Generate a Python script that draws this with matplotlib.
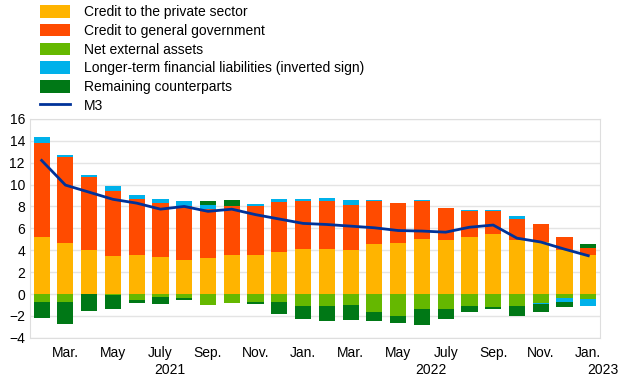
import numpy as np
import matplotlib.pyplot as plt

plt.rcParams['font.family'] = ['Liberation Sans', 'DejaVu Sans']

# Monthly data, Feb 2021 - Jan 2023 (annual growth contributions, p.p.)
months = ['Feb', 'Mar.', 'Apr', 'May', 'Jun', 'July', 'Aug', 'Sep.', 'Oct', 'Nov.', 'Dec',
          'Jan.', 'Feb', 'Mar.', 'Apr', 'May', 'Jun', 'July', 'Aug', 'Sep.', 'Oct', 'Nov.', 'Dec',
          'Jan.']
private = [5.25, 4.7, 4.0, 3.5, 3.55, 3.4, 3.15, 3.3, 3.6, 3.6, 3.8, 4.1,
           4.1, 4.0, 4.55, 4.65, 5.0, 4.95, 5.25, 5.45, 4.9, 4.75, 4.0, 3.55]
government = [8.55, 7.83, 6.7, 5.9, 5.15, 4.95, 4.9, 4.45, 4.4, 4.4, 4.6, 4.4,
              4.4, 4.15, 3.95, 3.7, 3.45, 2.9, 2.35, 2.1, 1.95, 1.6, 1.2, 0.65]
net_external = [-0.75, -0.75, 0.0, -0.05, -0.5, -0.25, -0.4, -1.0, -0.85, -0.75, -0.75, -1.05,
                -1.05, -1.0, -1.6, -2.0, -1.35, -1.4, -1.1, -1.15, -1.1, -0.8, -0.35, -0.45]
longer_term = [0.5, 0.2, 0.2, 0.5, 0.35, 0.3, 0.45, 0.35, 0.0, 0.25, 0.3, 0.2,
               0.25, 0.4, 0.05, 0.0, 0.1, 0.05, 0.1, 0.15, 0.25, -0.1, -0.35, -0.65]
remaining = [-1.4, -2.0, -1.55, -1.3, -0.3, -0.7, -0.15, 0.4, 0.55, -0.2, -1.1, -1.2,
             -1.4, -1.4, -0.9, -0.6, -1.45, -0.9, -0.5, -0.25, -0.9, -0.7, -0.45, 0.35]
m3 = [12.2, 9.95, 9.3, 8.65, 8.3, 7.75, 8.0, 7.55, 7.75, 7.25, 6.85, 6.45,
      6.35, 6.2, 6.05, 5.8, 5.75, 5.65, 6.1, 6.3, 5.1, 4.75, 4.1, 3.5]

series = [
    ('Credit to the private sector', private, '#FFB400'),
    ('Credit to general government', government, '#FF4B00'),
    ('Net external assets', net_external, '#65B800'),
    ('Longer-term financial liabilities (inverted sign)', longer_term, '#00B1EA'),
    ('Remaining counterparts', remaining, '#007816'),
]

fig = plt.figure(figsize=(6.2, 3.87), dpi=100)
ax = fig.add_axes([0.048, 0.127, 0.92, 0.566])

x = np.arange(len(months))
pos_base = np.zeros(len(x))
neg_base = np.zeros(len(x))
handles = []
for label, vals, color in series:
    v = np.array(vals)
    pos = np.where(v > 0, v, 0)
    neg = np.where(v < 0, v, 0)
    h = ax.bar(x, pos, 0.68, bottom=pos_base, color=color, label=label, linewidth=0, zorder=2)
    ax.bar(x, neg, 0.68, bottom=neg_base, color=color, linewidth=0, zorder=2)
    pos_base += pos
    neg_base += neg
    handles.append(h)

line, = ax.plot(x, m3, color='#003299', lw=2, label='M3', zorder=3)
handles.append(line)

ax.set_xlim(-0.5, 23.5)
ax.set_ylim(-4, 16)
ax.set_yticks(np.arange(-4, 17, 2))
ax.set_xticks(x[1::2])
ax.set_xticklabels(months[1::2])
ax.tick_params(length=0, labelsize=10, colors='#000000')
ax.tick_params(axis='x', pad=6)
ax.grid(axis='y', color='#e4e4e4', lw=1, zorder=0)
for s in ax.spines.values():
    s.set_color('#dedede')

# year labels
for xp, yr in [(5.4, '2021'), (16.4, '2022'), (23.6, '2023')]:
    ax.text(xp, -0.115, yr, transform=ax.get_xaxis_transform(), ha='center', va='top',
            fontsize=10, clip_on=False)

fig.legend(handles=handles, labels=[s[0] for s in series] + ['M3'],
           loc='upper left', bbox_to_anchor=(0.063, 0.99), frameon=False, fontsize=10,
           handlelength=2.1, handleheight=1.0, labelspacing=0.34, handletextpad=1.0,
           borderaxespad=0, borderpad=0.1)

fig.savefig('out.png', dpi=100)
